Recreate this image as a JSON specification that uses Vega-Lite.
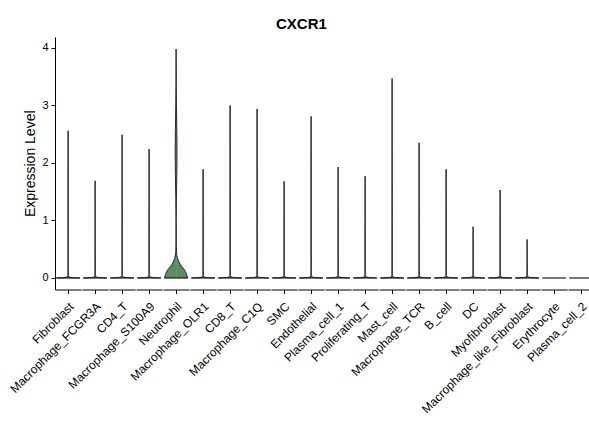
{
  "$schema": "https://vega.github.io/schema/vega-lite/v6.json",
  "padding": {"left": 8, "top": 17, "right": 0, "bottom": 0},
  "bounds": "flush",
  "title": {"text": "CXCR1", "fontSize": 15, "fontWeight": "bold", "color": "black", "anchor": "middle", "offset": 5},
  "data": {"values": [
    {"c": "Fibroblast", "y": 0, "d": 1}, {"c": "Fibroblast", "y": 0.008, "d": 0.3}, {"c": "Fibroblast", "y": 0.02, "d": 0.05}, {"c": "Fibroblast", "y": 0.04, "d": 0.012}, {"c": "Fibroblast", "y": 2.56, "d": 0.006},
    {"c": "Macrophage_FCGR3A", "y": 0, "d": 1}, {"c": "Macrophage_FCGR3A", "y": 0.008, "d": 0.3}, {"c": "Macrophage_FCGR3A", "y": 0.02, "d": 0.05}, {"c": "Macrophage_FCGR3A", "y": 0.04, "d": 0.012}, {"c": "Macrophage_FCGR3A", "y": 1.69, "d": 0.006},
    {"c": "CD4_T", "y": 0, "d": 1}, {"c": "CD4_T", "y": 0.008, "d": 0.3}, {"c": "CD4_T", "y": 0.02, "d": 0.05}, {"c": "CD4_T", "y": 0.04, "d": 0.012}, {"c": "CD4_T", "y": 2.49, "d": 0.006},
    {"c": "Macrophage_S100A9", "y": 0, "d": 1}, {"c": "Macrophage_S100A9", "y": 0.008, "d": 0.3}, {"c": "Macrophage_S100A9", "y": 0.02, "d": 0.05}, {"c": "Macrophage_S100A9", "y": 0.04, "d": 0.012}, {"c": "Macrophage_S100A9", "y": 2.24, "d": 0.006},
    {"c": "Neutrophil", "y": 0, "d": 1}, {"c": "Neutrophil", "y": 0.04, "d": 0.93}, {"c": "Neutrophil", "y": 0.08, "d": 0.86}, {"c": "Neutrophil", "y": 0.11, "d": 0.8}, {"c": "Neutrophil", "y": 0.14, "d": 0.72}, {"c": "Neutrophil", "y": 0.17, "d": 0.6}, {"c": "Neutrophil", "y": 0.2, "d": 0.48}, {"c": "Neutrophil", "y": 0.23, "d": 0.38}, {"c": "Neutrophil", "y": 0.26, "d": 0.29}, {"c": "Neutrophil", "y": 0.3, "d": 0.2}, {"c": "Neutrophil", "y": 0.34, "d": 0.13}, {"c": "Neutrophil", "y": 0.38, "d": 0.08}, {"c": "Neutrophil", "y": 0.42, "d": 0.045}, {"c": "Neutrophil", "y": 0.48, "d": 0.025}, {"c": "Neutrophil", "y": 0.6, "d": 0.012}, {"c": "Neutrophil", "y": 0.8, "d": 0.009}, {"c": "Neutrophil", "y": 1.0, "d": 0.01}, {"c": "Neutrophil", "y": 1.2, "d": 0.015}, {"c": "Neutrophil", "y": 1.4, "d": 0.028}, {"c": "Neutrophil", "y": 1.6, "d": 0.045}, {"c": "Neutrophil", "y": 1.8, "d": 0.06}, {"c": "Neutrophil", "y": 2.0, "d": 0.072}, {"c": "Neutrophil", "y": 2.2, "d": 0.078}, {"c": "Neutrophil", "y": 2.4, "d": 0.072}, {"c": "Neutrophil", "y": 2.6, "d": 0.06}, {"c": "Neutrophil", "y": 2.8, "d": 0.045}, {"c": "Neutrophil", "y": 3.0, "d": 0.03}, {"c": "Neutrophil", "y": 3.2, "d": 0.018}, {"c": "Neutrophil", "y": 3.4, "d": 0.012}, {"c": "Neutrophil", "y": 3.7, "d": 0.008}, {"c": "Neutrophil", "y": 3.98, "d": 0.006},
    {"c": "Macrophage_OLR1", "y": 0, "d": 1}, {"c": "Macrophage_OLR1", "y": 0.008, "d": 0.3}, {"c": "Macrophage_OLR1", "y": 0.02, "d": 0.05}, {"c": "Macrophage_OLR1", "y": 0.04, "d": 0.012}, {"c": "Macrophage_OLR1", "y": 1.89, "d": 0.006},
    {"c": "CD8_T", "y": 0, "d": 1}, {"c": "CD8_T", "y": 0.008, "d": 0.3}, {"c": "CD8_T", "y": 0.02, "d": 0.05}, {"c": "CD8_T", "y": 0.04, "d": 0.012}, {"c": "CD8_T", "y": 3.0, "d": 0.006},
    {"c": "Macrophage_C1Q", "y": 0, "d": 1}, {"c": "Macrophage_C1Q", "y": 0.008, "d": 0.3}, {"c": "Macrophage_C1Q", "y": 0.02, "d": 0.05}, {"c": "Macrophage_C1Q", "y": 0.04, "d": 0.012}, {"c": "Macrophage_C1Q", "y": 2.94, "d": 0.006},
    {"c": "SMC", "y": 0, "d": 1}, {"c": "SMC", "y": 0.008, "d": 0.3}, {"c": "SMC", "y": 0.02, "d": 0.05}, {"c": "SMC", "y": 0.04, "d": 0.012}, {"c": "SMC", "y": 1.68, "d": 0.006},
    {"c": "Endothelial", "y": 0, "d": 1}, {"c": "Endothelial", "y": 0.008, "d": 0.3}, {"c": "Endothelial", "y": 0.02, "d": 0.05}, {"c": "Endothelial", "y": 0.04, "d": 0.012}, {"c": "Endothelial", "y": 2.81, "d": 0.006},
    {"c": "Plasma_cell_1", "y": 0, "d": 1}, {"c": "Plasma_cell_1", "y": 0.008, "d": 0.3}, {"c": "Plasma_cell_1", "y": 0.02, "d": 0.05}, {"c": "Plasma_cell_1", "y": 0.04, "d": 0.012}, {"c": "Plasma_cell_1", "y": 1.93, "d": 0.006},
    {"c": "Proliferating_T", "y": 0, "d": 1}, {"c": "Proliferating_T", "y": 0.008, "d": 0.3}, {"c": "Proliferating_T", "y": 0.02, "d": 0.05}, {"c": "Proliferating_T", "y": 0.04, "d": 0.012}, {"c": "Proliferating_T", "y": 1.77, "d": 0.006},
    {"c": "Mast_cell", "y": 0, "d": 1}, {"c": "Mast_cell", "y": 0.008, "d": 0.3}, {"c": "Mast_cell", "y": 0.02, "d": 0.05}, {"c": "Mast_cell", "y": 0.04, "d": 0.012}, {"c": "Mast_cell", "y": 3.47, "d": 0.006},
    {"c": "Macrophage_TCR", "y": 0, "d": 1}, {"c": "Macrophage_TCR", "y": 0.008, "d": 0.3}, {"c": "Macrophage_TCR", "y": 0.02, "d": 0.05}, {"c": "Macrophage_TCR", "y": 0.04, "d": 0.012}, {"c": "Macrophage_TCR", "y": 2.35, "d": 0.006},
    {"c": "B_cell", "y": 0, "d": 1}, {"c": "B_cell", "y": 0.008, "d": 0.3}, {"c": "B_cell", "y": 0.02, "d": 0.05}, {"c": "B_cell", "y": 0.04, "d": 0.012}, {"c": "B_cell", "y": 1.89, "d": 0.006},
    {"c": "DC", "y": 0, "d": 1}, {"c": "DC", "y": 0.008, "d": 0.3}, {"c": "DC", "y": 0.02, "d": 0.05}, {"c": "DC", "y": 0.04, "d": 0.012}, {"c": "DC", "y": 0.89, "d": 0.006},
    {"c": "Myofibroblast", "y": 0, "d": 1}, {"c": "Myofibroblast", "y": 0.008, "d": 0.3}, {"c": "Myofibroblast", "y": 0.02, "d": 0.05}, {"c": "Myofibroblast", "y": 0.04, "d": 0.012}, {"c": "Myofibroblast", "y": 1.53, "d": 0.006},
    {"c": "Macrophage_like_Fibroblast", "y": 0, "d": 1}, {"c": "Macrophage_like_Fibroblast", "y": 0.008, "d": 0.3}, {"c": "Macrophage_like_Fibroblast", "y": 0.02, "d": 0.05}, {"c": "Macrophage_like_Fibroblast", "y": 0.04, "d": 0.012}, {"c": "Macrophage_like_Fibroblast", "y": 0.67, "d": 0.006},
    {"c": "Erythrocyte", "y": 0, "d": 1},
    {"c": "Plasma_cell_2", "y": 0, "d": 1}
  ]},
  "facet": {"column": {"field": "c", "type": "nominal", "title": null,
    "sort": ["Fibroblast", "Macrophage_FCGR3A", "CD4_T", "Macrophage_S100A9", "Neutrophil", "Macrophage_OLR1", "CD8_T", "Macrophage_C1Q", "SMC", "Endothelial", "Plasma_cell_1", "Proliferating_T", "Mast_cell", "Macrophage_TCR", "B_cell", "DC", "Myofibroblast", "Macrophage_like_Fibroblast", "Erythrocyte", "Plasma_cell_2"],
    "header": {"labelOrient": "bottom", "labelAngle": -45, "labelAlign": "right", "labelBaseline": "top", "labelFontSize": 12, "labelColor": "black", "labelPadding": 11, "labelLimit": 300}}},
  "spacing": 0,
  "resolve": {"scale": {"x": "independent"}},
  "spec": {
    "width": 26.2,
    "height": 252.5,
    "encoding": {
      "y": {"field": "y", "type": "quantitative", "scale": {"domain": [-0.2, 4.19], "nice": false, "zero": false},
        "axis": {"title": "Expression Level", "values": [0, 1, 2, 3, 4], "titlePadding": 4}}
    },
    "layer": [
      {"mark": {"type": "area", "orient": "horizontal", "color": "#5B8D61"},
        "encoding": {"x": {"field": "d", "type": "quantitative", "stack": null, "scale": {"domain": [-1.111, 1.111], "nice": false, "zero": false},
          "axis": {"values": [0], "labels": false, "title": null, "tickSize": 4, "domainColor": "black"}}, "x2": {"datum": 0}}},
      {"mark": {"type": "area", "orient": "horizontal", "color": "#5B8D61"},
        "encoding": {"x": {"field": "d", "type": "quantitative", "stack": null, "scale": {"domain": [-1.111, 1.111], "nice": false, "zero": false, "reverse": true}, "axis": null}, "x2": {"datum": 0}}},
      {"mark": {"type": "line", "color": "#1a1a1a", "strokeWidth": 0.9},
        "encoding": {"x": {"field": "d", "type": "quantitative", "scale": {"domain": [-1.111, 1.111], "nice": false, "zero": false}, "axis": null}, "order": {"field": "y", "type": "quantitative"}}},
      {"mark": {"type": "line", "color": "#1a1a1a", "strokeWidth": 0.9},
        "encoding": {"x": {"field": "d", "type": "quantitative", "scale": {"domain": [-1.111, 1.111], "nice": false, "zero": false, "reverse": true}, "axis": null}, "order": {"field": "y", "type": "quantitative"}}},
      {"transform": [{"filter": {"field": "y", "equal": 0}}],
        "mark": {"type": "rule", "color": "#1a1a1a", "strokeWidth": 1.2},
        "encoding": {"x": {"field": "d", "type": "quantitative", "scale": {"domain": [-1.111, 1.111], "nice": false, "zero": false}, "axis": null}, "x2": {"datum": 0}}},
      {"transform": [{"filter": {"field": "y", "equal": 0}}],
        "mark": {"type": "rule", "color": "#1a1a1a", "strokeWidth": 1.2},
        "encoding": {"x": {"field": "d", "type": "quantitative", "scale": {"domain": [-1.111, 1.111], "nice": false, "zero": false, "reverse": true}, "axis": null}, "x2": {"datum": 0}}}
    ],
    "resolve": {"scale": {"x": "independent"}}
  },
  "config": {
    "font": "Liberation Sans",
    "view": {"stroke": null},
    "axis": {"grid": false, "domainColor": "black", "tickColor": "black", "labelColor": "black", "labelFontSize": 11, "titleFontSize": 14, "titleFontWeight": "normal", "titleColor": "black", "tickSize": 4, "labelPadding": 3}
  }
}
